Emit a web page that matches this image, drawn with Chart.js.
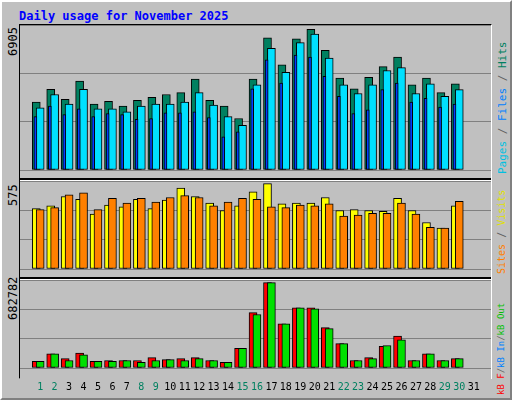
<!DOCTYPE html>
<html>
<head>
<meta charset="utf-8">
<script src="https://cdn.jsdelivr.net/npm/chart.js@4/dist/chart.umd.min.js"></script>
<style>
  body { margin: 0; background: #fff; }
  #frame { position: absolute; left: 0; top: 0; width: 508px; height: 396px; background: #C0C0C0;
    border: 2px solid; border-color: #fff #808080 #808080 #fff; font-family: "DejaVu Sans Mono", monospace; }
  #title { position: absolute; left: 17px; top: 7px; font-size: 12px; font-weight: bold; color: #0000FF; }
  .panel { position: absolute; left: 18px; width: 471px; background: #C0C0C0; }
  .frameBox { position: absolute; left: 17px; top: 22px; width: 471px; height: 353px;
    border: 1px solid; border-color: #000 #fff #fff #000; }
  .sep { position: absolute; left: 18px; width: 471px; height: 2px; background: #000; border-bottom: 1px solid #fff; }
  .vlab { position: absolute; transform: rotate(-90deg); transform-origin: left top; font-size: 12px; white-space: nowrap; }
</style>
</head>
<body>
<div id="frame">
  <div id="title">Daily usage for November 2025</div>
  <div class="frameBox"></div>
  <div class="panel" style="top:23px;height:153px"><canvas id="c1"></canvas></div>
  <div class="sep" style="top:176px"></div>
  <div class="panel" style="top:179px;height:96px"><canvas id="c2"></canvas></div>
  <div class="sep" style="top:275px"></div>
  <div class="panel" style="top:278px;height:118px"><canvas id="c3"></canvas></div>

  <div class="vlab" style="left:4px;top:54px;color:#000">6905</div>
  <div class="vlab" style="left:4px;top:204px;color:#000">575</div>
  <div class="vlab" style="left:4px;top:318px;color:#000">682782</div>

  <div class="vlab" style="left:494px;top:172px;font-size:11px"><span style="color:#00C0E0">Pages</span><span style="color:#606060"> / </span><span style="color:#0080FF">Files</span><span style="color:#606060"> / </span><span style="color:#008060">Hits</span></div>
  <div class="vlab" style="left:494px;top:272px;font-size:10px"><span style="color:#FF8000">Sites</span><span style="color:#606060"> / </span><span style="color:#E0E000">Visits</span></div>
  <div class="vlab" style="left:494px;top:393px;font-size:9px"><span style="color:#FF0000">kB F</span><span style="color:#606060">/</span><span style="color:#0080FF">kB In</span><span style="color:#606060">/</span><span style="color:#00C000">kB Out</span></div>
</div>
<script>
const days = Array.from({ length: 31 }, (_, i) => i + 1);
const weekendDays = [1, 2, 8, 9, 15, 16, 22, 23, 29, 30];

const hits = [3327, 3955, 3468, 4363, 3233, 3374, 3139, 3421, 3562, 3704, 3798, 4457, 3421, 3139, 2527, 4457, 6481, 5163, 6434, 6905, 5869, 4504, 3986, 4551, 5069, 5540, 4174, 4504, 3798, 4222, 0];
const files = [3045, 3704, 3233, 3955, 2997, 2997, 2856, 3139, 3233, 3233, 3327, 3798, 3186, 2621, 2197, 4174, 5964, 4786, 6246, 6670, 5493, 4174, 3751, 4174, 4880, 5022, 3751, 4222, 3609, 3939, 0];
const pages = [2621, 3139, 2715, 2997, 2621, 2762, 2715, 2480, 2527, 2809, 2809, 2856, 2574, 1632, 1867, 3986, 5398, 4269, 5634, 5540, 4598, 3609, 2762, 2950, 3939, 4269, 3327, 3515, 3092, 3233, 0];

const visits = [406, 425, 488, 469, 369, 431, 419, 469, 406, 463, 544, 488, 444, 394, 425, 519, 575, 438, 444, 444, 481, 394, 400, 394, 388, 475, 394, 313, 275, 425, 0];
const sites = [400, 413, 500, 513, 400, 475, 444, 475, 450, 481, 494, 481, 425, 450, 475, 469, 419, 413, 431, 425, 438, 356, 363, 375, 375, 444, 369, 281, 275, 456, 0];

const kbF = [52522, 112548, 75030, 120052, 52522, 60025, 60025, 60025, 82534, 67528, 75030, 82534, 60025, 45019, 157566, 442688, 682782, 352649, 480204, 480204, 322637, 195081, 60025, 82534, 172573, 255108, 60025, 112548, 60025, 75030, 0];
const kbOut = [52522, 112548, 60025, 105045, 52522, 52522, 60025, 45019, 60025, 67528, 60025, 75030, 60025, 45019, 157566, 427680, 682782, 352649, 480204, 472695, 315130, 195081, 60025, 75030, 180075, 225093, 60025, 112548, 60025, 75030, 0];

function pts(values, shift) {
    return values.map((v, i) => ({ x: days[i] + shift, y: v }));
}

function bars(label, values, shift, color, width, order) {
    return {
        label: label,
        data: pts(values, shift),
        backgroundColor: color,
        borderColor: '#000',
        borderWidth: 1,
        borderSkipped: false,
        barThickness: width,
        grouped: false,
        order: order
    };
}

function makeChart(id, datasets, maxVal, showX) {
    const top = maxVal * 1.03;
    return new Chart(document.getElementById(id), {
        type: 'bar',
        data: { datasets: datasets },
        options: {
            responsive: true,
            maintainAspectRatio: false,
            animation: false,
            layout: { padding: 0 },
            plugins: { legend: { display: false }, tooltip: { enabled: false } },
            scales: {
                x: {
                    type: 'linear',
                    min: 0.13,
                    max: 31.67,
                    grid: { display: false },
                    border: { display: false },
                    afterBuildTicks: (axis) => { axis.ticks = days.map(d => ({ value: d })); },
                    ticks: {
                        display: showX,
                        autoSkip: false,
                        maxRotation: 0,
                        padding: 5,
                        font: { family: 'DejaVu Sans Mono', size: 10 },
                        color: (ctx) => weekendDays.includes(ctx.tick.value) ? '#008060' : '#000'
                    }
                },
                y: {
                    min: 0,
                    max: top,
                    afterBuildTicks: (axis) => { axis.ticks = [0, top / 3, top * 2 / 3, top].map(v => ({ value: v })); },
                    ticks: { display: false },
                    grid: { color: '#808080', drawTicks: false },
                    border: { display: false }
                }
            }
        }
    });
}

makeChart('c1', [
    bars('Hits', hits, -0.27, '#008060', 8, 2),
    bars('Files', files, 0.0, '#00E0FF', 8, 1),
    bars('Pages', pages, -0.33, '#0040FF', 3, 0)
], 6905, false);

makeChart('c2', [
    bars('Visits', visits, -0.27, '#FFFF00', 8, 1),
    bars('Sites', sites, 0.0, '#FF8000', 8, 0)
], 575, false);

makeChart('c3', [
    bars('kB F', kbF, -0.27, '#FF0000', 8, 1),
    bars('kB Out', kbOut, 0.0, '#00E000', 8, 0)
], 682782, true);
</script>
</body>
</html>
